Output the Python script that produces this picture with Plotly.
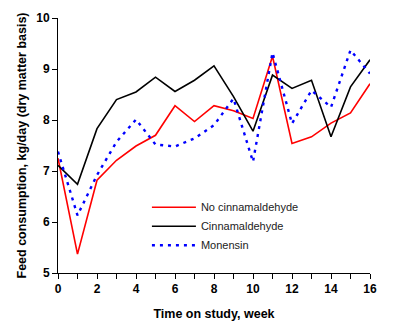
import plotly.graph_objects as go

weeks = list(range(17))
no_cinnamaldehyde = [7.25, 5.37, 6.82, 7.21, 7.49, 7.70, 8.28, 7.97, 8.28, 8.18, 8.03, 9.25, 7.54, 7.67, 7.94, 8.14, 8.71]
cinnamaldehyde = [7.11, 6.74, 7.83, 8.40, 8.55, 8.84, 8.56, 8.78, 9.06, 8.46, 7.78, 8.88, 8.62, 8.78, 7.67, 8.65, 9.18]
monensin = [7.38, 6.13, 6.92, 7.57, 8.01, 7.52, 7.48, 7.64, 7.90, 8.42, 7.18, 9.32, 7.93, 8.58, 8.25, 9.37, 8.91]

fig = go.Figure()
fig.add_trace(go.Scatter(x=weeks, y=no_cinnamaldehyde, mode="lines", name="No cinnamaldehyde",
                         line=dict(color="#FF0000", width=1.6)))
fig.add_trace(go.Scatter(x=weeks, y=cinnamaldehyde, mode="lines", name="Cinnamaldehyde",
                         line=dict(color="#000000", width=1.6)))
fig.add_trace(go.Scatter(x=weeks, y=monensin, mode="lines", name="Monensin",
                         line=dict(color="#0000FF", width=2.4, dash="3px,5px")))

bold = dict(family="Liberation Sans, Arial, sans-serif", size=12, color="#000000", weight="bold")
bold_title = dict(family="Liberation Sans, Arial, sans-serif", size=12.5, color="#000000", weight="bold")

fig.update_layout(
    width=400, height=326,
    margin=dict(l=58, r=30, t=18, b=53),
    paper_bgcolor="white", plot_bgcolor="white",
    showlegend=True,
    legend=dict(x=0.285, y=0.315, xanchor="left", yanchor="top",
                bgcolor="rgba(0,0,0,0)", tracegroupgap=0, itemwidth=44,
                font=dict(family="Liberation Sans, Arial, sans-serif", size=11, color="#222222")),
    xaxis=dict(range=[0, 16], dtick=2, tick0=0, showgrid=False, zeroline=False,
               showline=True, linecolor="black", linewidth=1, automargin=False,
               ticks="outside", ticklen=5, tickcolor="black",
               minor=dict(dtick=1, ticks="outside", ticklen=5, tickcolor="black"),
               tickfont=bold,
               title=dict(text="Time on study, week", font=bold_title, standoff=13)),
    yaxis=dict(range=[5, 10], dtick=1, showgrid=False, zeroline=False,
               showline=True, linecolor="black", linewidth=1, automargin=False,
               ticks="outside", ticklen=5, tickcolor="black",
               tickfont=bold,
               title=dict(text="Feed consumption, kg/day (dry matter basis)", font=bold_title, standoff=6)),
)

fig.write_html("out.html")
